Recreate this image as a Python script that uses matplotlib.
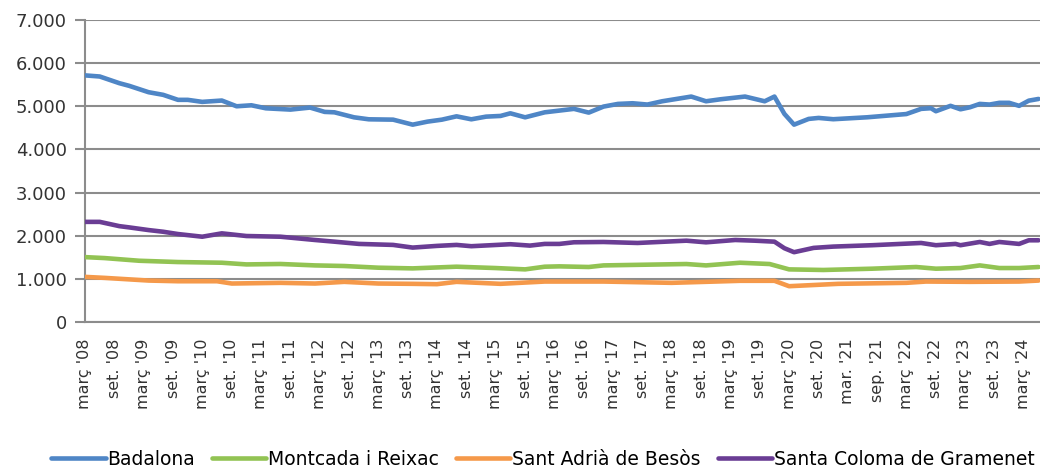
import matplotlib
matplotlib.use('Agg')
import matplotlib.pyplot as plt
import matplotlib.ticker as mticker
import pandas as pd

# Badalona
bad_dates = ['2008-03', '2008-06', '2008-10', '2008-12', '2009-04', '2009-07', '2009-10', '2009-12',
             '2010-03', '2010-07', '2010-10', '2011-01', '2011-04', '2011-09', '2012-01', '2012-04',
             '2012-06', '2012-10', '2013-01', '2013-06', '2013-10', '2014-01', '2014-04', '2014-07',
             '2014-10', '2015-01', '2015-04', '2015-06', '2015-09', '2016-01', '2016-04', '2016-07',
             '2016-10', '2017-01', '2017-04', '2017-07', '2017-10', '2018-01', '2018-07', '2018-10',
             '2019-01', '2019-06', '2019-10', '2019-12', '2020-02', '2020-04', '2020-07', '2020-09',
             '2020-12', '2021-07', '2022-03', '2022-06', '2022-08', '2022-09', '2022-12', '2023-02',
             '2023-04', '2023-06', '2023-08', '2023-10', '2023-12', '2024-02', '2024-04', '2024-06']
bad_vals = [5716, 5690, 5535, 5474, 5326, 5265, 5149, 5149,
            5102, 5133, 5000, 5023, 4953, 4923, 4970, 4870,
            4860, 4744, 4698, 4690, 4574, 4644, 4690, 4767,
            4698, 4760, 4776, 4837, 4744, 4860, 4900, 4940,
            4853, 4993, 5055, 5070, 5040, 5116, 5225, 5116,
            5163, 5225, 5116, 5225, 4823, 4574, 4707, 4730,
            4700, 4745, 4820, 4940, 4955, 4885, 5010, 4930,
            4977, 5055, 5040, 5080, 5080, 5010, 5130, 5170]

# Montcada i Reixac
mon_dates = ['2008-03', '2008-07', '2009-02', '2009-10', '2010-07', '2010-12', '2011-07', '2012-02',
             '2012-08', '2013-03', '2013-10', '2014-07', '2015-03', '2015-09', '2016-01', '2016-04',
             '2016-10', '2017-01', '2018-06', '2018-10', '2019-05', '2019-11', '2020-03', '2020-10',
             '2021-08', '2022-05', '2022-09', '2023-02', '2023-06', '2023-10', '2024-02', '2024-06']
mon_vals = [1504, 1482, 1420, 1390, 1374, 1335, 1345, 1312,
            1298, 1259, 1243, 1282, 1251, 1220, 1282, 1290,
            1275, 1312, 1344, 1312, 1374, 1344, 1220, 1206,
            1236, 1275, 1236, 1251, 1312, 1251, 1251, 1275]

# Sant Adrià de Besòs
adr_dates = ['2008-03', '2008-07', '2009-04', '2009-10', '2010-06', '2010-09', '2011-07', '2012-02',
             '2012-08', '2013-03', '2013-10', '2014-03', '2014-07', '2015-04', '2016-01', '2016-04',
             '2017-01', '2018-03', '2019-05', '2019-12', '2020-03', '2021-01', '2022-03', '2022-07',
             '2023-04', '2024-02', '2024-06']
adr_vals = [1046, 1023, 961, 945, 945, 892, 908, 892,
            931, 892, 885, 877, 931, 885, 938, 938,
            938, 908, 955, 955, 830, 885, 908, 938,
            931, 938, 961]

# Santa Coloma de Gramenet
sco_dates = ['2008-03', '2008-06', '2008-10', '2008-12', '2009-04', '2009-07', '2009-10', '2010-03',
             '2010-07', '2010-12', '2011-07', '2012-02', '2012-06', '2012-11', '2013-06', '2013-10',
             '2014-03', '2014-07', '2014-10', '2015-02', '2015-06', '2015-10', '2016-01', '2016-04',
             '2016-07', '2017-01', '2017-08', '2018-06', '2018-10', '2019-04', '2019-08', '2019-12',
             '2020-02', '2020-04', '2020-08', '2020-12', '2021-08', '2022-06', '2022-09', '2023-01',
             '2023-02', '2023-06', '2023-08', '2023-10', '2024-02', '2024-04', '2024-06']
sco_vals = [2321, 2321, 2222, 2193, 2131, 2092, 2039, 1977,
            2055, 1993, 1977, 1901, 1862, 1810, 1787, 1725,
            1764, 1787, 1757, 1780, 1803, 1771, 1810, 1810,
            1848, 1855, 1832, 1885, 1847, 1901, 1885, 1862,
            1710, 1618, 1718, 1748, 1780, 1832, 1780, 1810,
            1780, 1855, 1810, 1855, 1810, 1894, 1894]

# etiquetes eix X (cada 6 mesos)
tick_dates = pd.date_range('2008-03-01', '2024-03-01', freq='6MS')
tick_labels = ["març '08", "set. '08", "març '09", "set. '09", "març '10", "set. '10",
               "març '11", "set. '11", "març '12", "set. '12", "març '13", "set. '13",
               "març '14", "set. '14", "març '15", "set. '15", "març '16", "set. '16",
               "març '17", "set. '17", "març '18", "set. '18", "març '19", "set. '19",
               "març '20", "set. '20", "mar. '21", "sep. '21", "març '22", "set. '22",
               "març '23", "set. '23", "març '24"]

series = [
    ('Badalona', bad_dates, bad_vals, '#4F86C6'),
    ('Montcada i Reixac', mon_dates, mon_vals, '#92C353'),
    ('Sant Adrià de Besòs', adr_dates, adr_vals, '#F5994A'),
    ('Santa Coloma de Gramenet', sco_dates, sco_vals, '#6A3D94'),
]

plt.rcParams['font.family'] = ['DejaVu Sans']
fig = plt.figure(figsize=(10.4, 4.69), dpi=100)
ax = fig.add_axes([0.0817, 0.3134, 0.9183, 0.644])

for name, d, v, c in series:
    ax.plot(pd.to_datetime(d), v, color=c, lw=3.3, label=name, solid_joinstyle='round',
            solid_capstyle='round', zorder=3)

ax.set_ylim(0, 7000)
ax.set_yticks(range(0, 7001, 1000))
ax.yaxis.set_major_formatter(mticker.FuncFormatter(lambda v, p: f'{int(v):,}'.replace(',', '.')))
ax.set_xlim(pd.Timestamp('2008-03-01'), pd.Timestamp('2024-06-10'))
ax.set_xticks(tick_dates)
ax.set_xticklabels(tick_labels, rotation=90, fontsize=11.5, color='#333333')
ax.tick_params(axis='y', labelsize=13, colors='#8c8c8c', length=7, width=1.5, pad=6,
               labelcolor='#333333')
ax.tick_params(axis='x', length=0, pad=12)

ax.grid(axis='y', color='#8c8c8c', lw=1.5, zorder=0)
for s in ['top', 'right']:
    ax.spines[s].set_visible(False)
ax.spines['left'].set_color('#8c8c8c')
ax.spines['left'].set_linewidth(1.5)
ax.spines['bottom'].set_color('#8c8c8c')
ax.spines['bottom'].set_linewidth(1.5)

fig.legend(loc='lower center', bbox_to_anchor=(0.522, -0.035), ncol=4, frameon=False,
           fontsize=13.5, handlelength=2.9, columnspacing=0.9, handletextpad=0.1)

fig.savefig('out.png', dpi=100)
